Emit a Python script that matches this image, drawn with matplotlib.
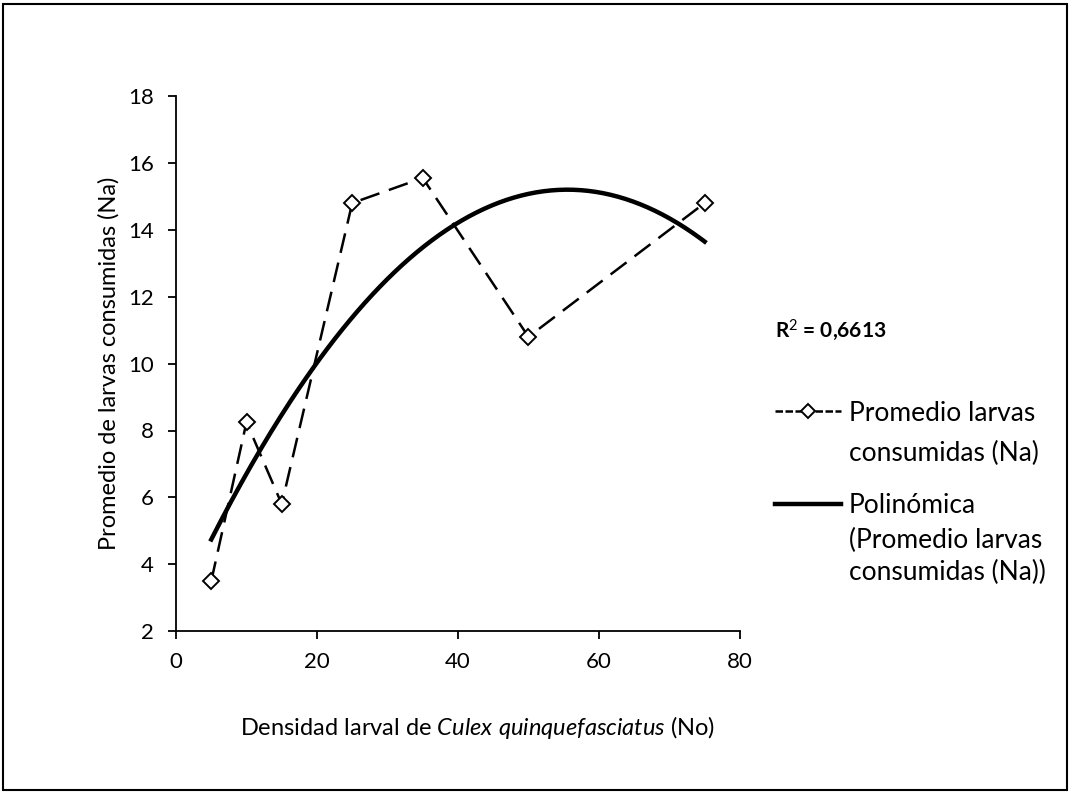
import numpy as np
import matplotlib
matplotlib.use('Agg')
import matplotlib.pyplot as plt
from matplotlib.patches import Rectangle

# data
densidad = np.array([5, 10, 15, 25, 35, 50, 75])
promedio = np.array([3.5, 8.25, 5.8, 14.8, 15.55, 10.8, 14.8])
xticks = [0, 20, 40, 60, 80]
yticks = [2, 4, 6, 8, 10, 12, 14, 16, 18]

plt.rcParams['font.family'] = ['Lato', 'DejaVu Sans']
plt.rcParams['mathtext.fontset'] = 'custom'
plt.rcParams['mathtext.rm'] = 'Lato'
plt.rcParams['mathtext.it'] = 'Lato:italic'
plt.rcParams['mathtext.bf'] = 'Lato:bold'

# quadratic trend line (Excel "Polinómica", order 2)
coef = np.polyfit(densidad, promedio, 2)
xs = np.linspace(densidad.min(), densidad.max(), 200)
ys = np.polyval(coef, xs)

fig = plt.figure(figsize=(10.7, 8), dpi=100)
fig.patches.append(Rectangle((0.003, 0.012), 0.994, 0.983, transform=fig.transFigure,
                             fill=False, edgecolor='k', linewidth=1.5))
ax = fig.add_axes([0.1645, 0.211, 0.527, 0.669])

l1, = ax.plot(densidad, promedio, linestyle=(0, (8, 4)), color='k', linewidth=1.8,
              marker='D', markersize=8.5, markerfacecolor='white', markeredgecolor='k',
              markeredgewidth=1.4)
l2, = ax.plot(xs, ys, color='k', linewidth=3.2)

ax.set_xlim(0, 80)
ax.set_ylim(2, 18)
ax.set_xticks(xticks)
ax.set_yticks(yticks)
ax.spines['top'].set_visible(False)
ax.spines['right'].set_visible(False)
ax.spines['left'].set_linewidth(1.3)
ax.spines['bottom'].set_linewidth(1.3)
ax.tick_params(labelsize=16, width=1.3, length=6, direction='out')
ax.tick_params(axis='x', pad=9)
ax.tick_params(axis='y', pad=10)

ax.set_ylabel('Promedio de larvas consumidas (Na)', fontsize=17, labelpad=6)
ax.set_xlabel('Densidad larval de $\\mathit{Culex\\ quinquefasciatus}$ (No)', fontsize=17)
ax.xaxis.set_label_coords(0.535, -0.155)

fig.text(0.724, 0.5875, 'R$^{2}$ = 0,6613', fontsize=15, fontweight='bold', va='center')

fs = 19
leg = ax.legend([l1, l2], ['Promedio larvas', 'Polinómica'], loc='upper left',
                bbox_to_anchor=(1.02, 0.475), frameon=False, fontsize=fs,
                handlelength=2.5, labelspacing=2.55, handletextpad=0.3)
leg.legend_handles[0].set_markersize(7)
leg.legend_handles[0].set_linestyle((0, (3, 1)))
t1, t2 = leg.get_texts()
ax.annotate('consumidas (Na)', xy=(0, 0), xycoords=t1, xytext=(0, -40),
            textcoords='offset pixels', fontsize=fs, va='bottom', ha='left',
            annotation_clip=False, zorder=10)
ax.annotate('(Promedio larvas', xy=(0, 0), xycoords=t2, xytext=(0, -35),
            textcoords='offset pixels', fontsize=fs, va='bottom', ha='left',
            annotation_clip=False, zorder=10)
ax.annotate('consumidas (Na))', xy=(0, 0), xycoords=t2, xytext=(0, -67),
            textcoords='offset pixels', fontsize=fs, va='bottom', ha='left',
            annotation_clip=False, zorder=10)

fig.canvas.draw()
fig.savefig('out.png', dpi=100)
